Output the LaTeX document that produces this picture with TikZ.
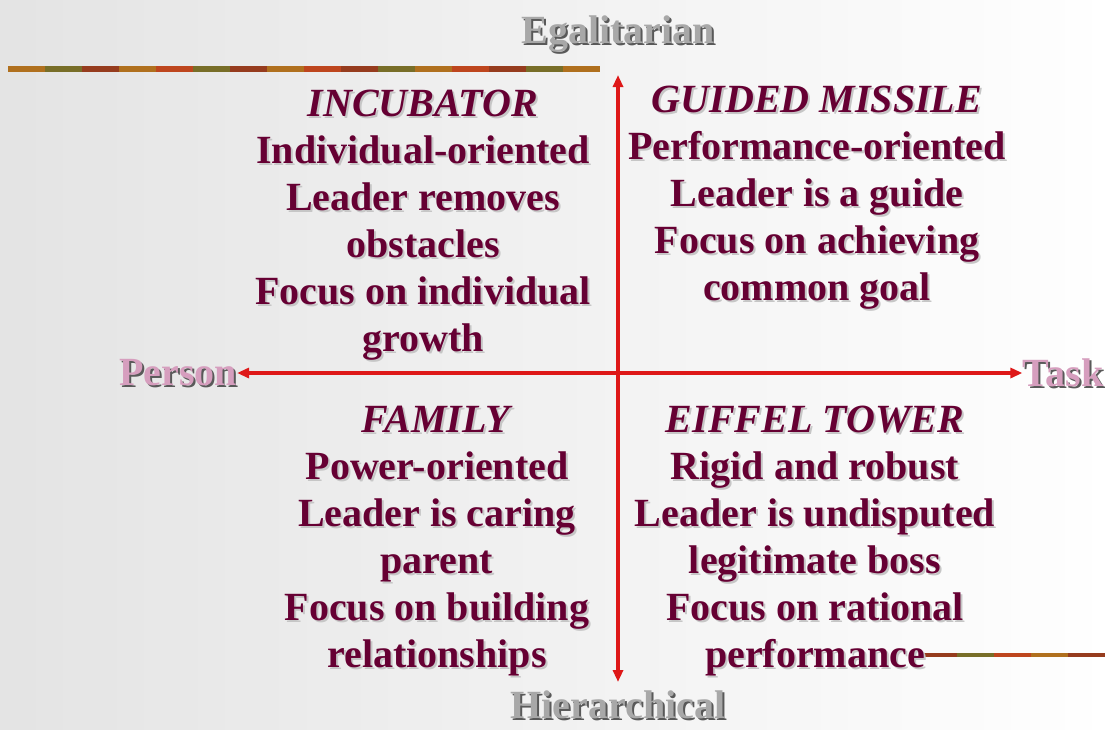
\documentclass[tikz,border=0pt]{standalone}
\usepackage{fontspec}
\setmainfont{Liberation Serif}
\usetikzlibrary{arrows.meta}

\definecolor{maroon}{RGB}{102,0,51}
\definecolor{axisred}{RGB}{222,24,24}
\definecolor{pinklabel}{RGB}{214,158,190}
\definecolor{graylabel}{RGB}{168,168,168}
\definecolor{bandA}{RGB}{176,112,30}
\definecolor{bandB}{RGB}{150,60,30}
\definecolor{bandC}{RGB}{120,110,40}
\definecolor{bandD}{RGB}{190,70,30}

\newcommand{\bigfont}{\fontsize{40}{47}\selectfont\bfseries}
\newcommand{\shadowtext}[4]{%
  \node[#3, text=gray!45, xshift=2pt, yshift=-2pt] at (#2) {#4};
  \node[#3] (#1) at (#2) {#4};}
\newcommand{\axistext}[4]{%
  \node[axislabel, text=black!65, xshift=2pt, yshift=-2pt] at (#2) {#4};
  \node[axislabel, text=#3] (#1) at (#2) {#4};}

\begin{document}
\begin{tikzpicture}[x=1pt,y=-1pt]
        \tikzstyle{every node}+=[inner sep=0pt]
        \tikzstyle{body}=[align=center, font=\bigfont, text=maroon]
        \tikzstyle{axislabel}=[font=\bigfont]
        \tikzstyle{axis}=[draw=axisred, line width=3.5pt, {Triangle[length=12pt,width=10pt]}-{Triangle[length=12pt,width=10pt]}]
        % background
        \shade [left color=gray!32, right color=white] (0,0) rectangle (1105,729);
        \shade [top color=white, bottom color=white, middle color=white, opacity=0.35] (0,0) rectangle (1105,729);
        \useasboundingbox (0,0) rectangle (1105,729);
        % decorative bands
        \foreach \x/\c in {8/bandA,45/bandC,82/bandB,119/bandA,156/bandD,193/bandC,230/bandB,267/bandA,304/bandD,341/bandB,378/bandC,415/bandA,452/bandD,489/bandB,526/bandC,563/bandA}
          \fill [\c] (\x,66) rectangle ++(37,6);
        \foreach \x/\c in {920/bandB,957/bandC,994/bandD,1031/bandA,1068/bandB}
          \fill [\c] (\x,653) rectangle ++(37,4);
        % axes
        \axistext{egal}{618,34}{graylabel}{Egalitarian}
        \axistext{hier}{618,705}{graylabel}{Hierarchical}
        \axistext{person}{178,373}{pinklabel}{Person}
        \axistext{task}{1063,373}{pinklabel}{Task}
        \coordinate (top) at (618,75);
        \coordinate (bottom) at (618,682);
        \draw [axis] (person.east) -- (task.west);
        \draw [axis] (top) -- (bottom);
        % quadrants
        \shadowtext{incubator}{423,225}{body}{\textit{INCUBATOR}\\Individual-oriented\\Leader removes\\obstacles\\Focus on individual\\growth}
        \shadowtext{missile}{817,198}{body}{\textit{GUIDED MISSILE}\\Performance-oriented\\Leader is a guide\\Focus on achieving\\common goal}
        \shadowtext{family}{437,541}{body}{\textit{FAMILY}\\Power-oriented\\Leader is caring\\parent\\Focus on building\\relationships}
        \shadowtext{eiffel}{815,541}{body}{\textit{EIFFEL TOWER}\\Rigid and robust\\Leader is undisputed\\legitimate boss\\Focus on rational\\performance}
        \end{tikzpicture}
\end{document}
